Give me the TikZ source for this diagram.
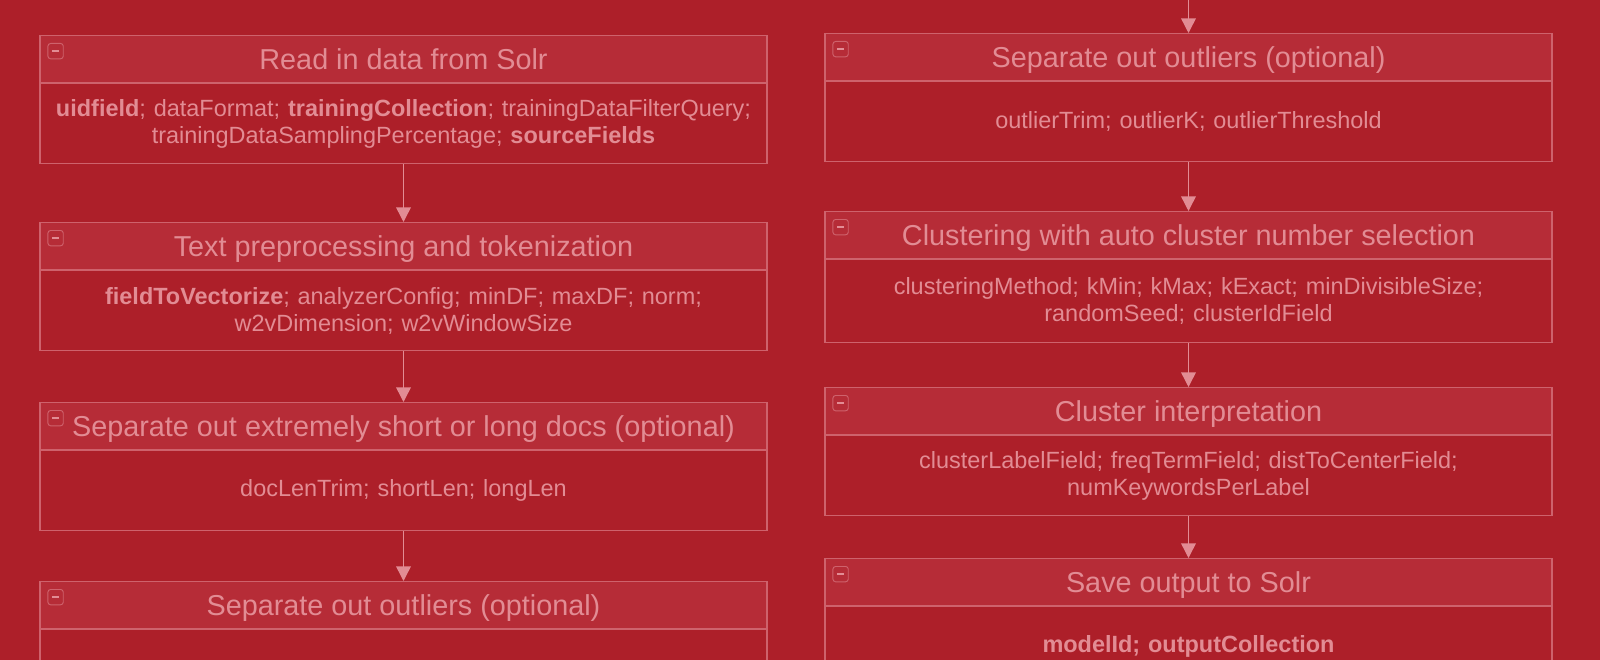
\documentclass[tikz,border=0pt]{standalone}
\usepackage{fontspec}
\setmainfont{Liberation Sans}
\usetikzlibrary{positioning,arrows.meta}

\definecolor{bgred}{RGB}{173,31,41}
\definecolor{headred}{RGB}{182,44,55}
\definecolor{inkpink}{RGB}{226,140,148}
\definecolor{edgepink}{RGB}{206,98,108}

\tikzset{
  stagehead/.style={draw=edgepink, fill=headred, line width=0.8pt, anchor=north,
    minimum width=545.25pt, minimum height=35.25pt, inner sep=0pt, text depth=0pt,
    text=inkpink, font=\fontsize{21.6}{26}\selectfont},
  stagebody/.style={draw=edgepink, line width=0.8pt, minimum width=545.25pt,
    minimum height=60pt, text width=545.25pt, inner sep=0pt, align=center,
    text=inkpink, font=\fontsize{17.6}{20.4}\selectfont},
  foldicon/.style={draw=edgepink, line width=0.7pt, rounded corners=2pt,
    minimum size=11.5pt, inner sep=0pt, anchor=north west},
  flow/.style={draw=inkpink, line width=1.1pt, -{Triangle[width=11pt,length=11pt]}}
}
\newcommand{\foldbar}{\textcolor{inkpink}{\rule{5.5pt}{1.2pt}}}

\begin{document}
\begin{tikzpicture}[x=0.75pt,y=-0.75pt]
  \fill[bgred] (0,0) rectangle (1600,660);
  \useasboundingbox (0,0) rectangle (1600,660);
  \clip (0,0) rectangle (1600,660);

  % left column
  \node[stagehead] (readh) at (403.5,35) {Read in data from Solr};
  \node[stagebody, below=0pt of readh] (readb)
    {\textbf{uidfield}; dataFormat; \textbf{trainingCollection}; trainingDataFilterQuery;\\
     trainingDataSamplingPercentage; \textbf{sourceFields}};
  \node[foldicon] (readi) at ([shift={(8,8)}]readh.north west) {\foldbar};

  \node[stagehead] (tokh) at (403.5,222) {Text preprocessing and tokenization};
  \node[stagebody, below=0pt of tokh] (tokb)
    {\textbf{fieldToVectorize}; analyzerConfig; minDF; maxDF; norm;\\
     w2vDimension; w2vWindowSize};
  \node[foldicon] (toki) at ([shift={(8,8)}]tokh.north west) {\foldbar};

  \node[stagehead] (lenh) at (403.5,402) {Separate out extremely short or long docs (optional)};
  \node[stagebody, below=0pt of lenh] (lenb) {docLenTrim; shortLen; longLen};
  \node[foldicon] (leni) at ([shift={(8,8)}]lenh.north west) {\foldbar};

  \node[stagehead] (outlh) at (403.5,581) {Separate out outliers (optional)};
  \node[stagebody, below=0pt of outlh] (outlb) {};
  \node[foldicon] (outli) at ([shift={(8,8)}]outlh.north west) {\foldbar};

  \draw[flow] (readb) -- (tokh);
  \draw[flow] (tokb) -- (lenh);
  \draw[flow] (lenb) -- (outlh);

  % right column
  \coordinate (feed) at (1188.5,-2);
  \node[stagehead] (outrh) at (1188.5,33) {Separate out outliers (optional)};
  \node[stagebody, below=0pt of outrh] (outrb) {outlierTrim; outlierK; outlierThreshold};
  \node[foldicon] (outri) at ([shift={(8,8)}]outrh.north west) {\foldbar};

  \node[stagehead] (clush) at (1188.5,211) {Clustering with auto cluster number selection};
  \node[stagebody, below=0pt of clush, minimum height=62pt] (clusb)
    {clusteringMethod; kMin; kMax; kExact; minDivisibleSize;\\
     randomSeed; clusterIdField};
  \node[foldicon] (clusi) at ([shift={(8,8)}]clush.north west) {\foldbar};

  \node[stagehead] (interh) at (1188.5,387) {Cluster interpretation};
  \node[stagebody, below=0pt of interh] (interb)
    {clusterLabelField; freqTermField; distToCenterField;\\
     numKeywordsPerLabel};
  \node[foldicon] (interi) at ([shift={(8,8)}]interh.north west) {\foldbar};

  \node[stagehead] (saveh) at (1188.5,558) {Save output to Solr};
  \node[stagebody, below=0pt of saveh] (saveb) {\textbf{modelId; outputCollection}};
  \node[foldicon] (savei) at ([shift={(8,8)}]saveh.north west) {\foldbar};

  \draw[flow] (feed) -- (outrh);
  \draw[flow] (outrb) -- (clush);
  \draw[flow] (clusb) -- (interh);
  \draw[flow] (interb) -- (saveh);
\end{tikzpicture}
\end{document}
